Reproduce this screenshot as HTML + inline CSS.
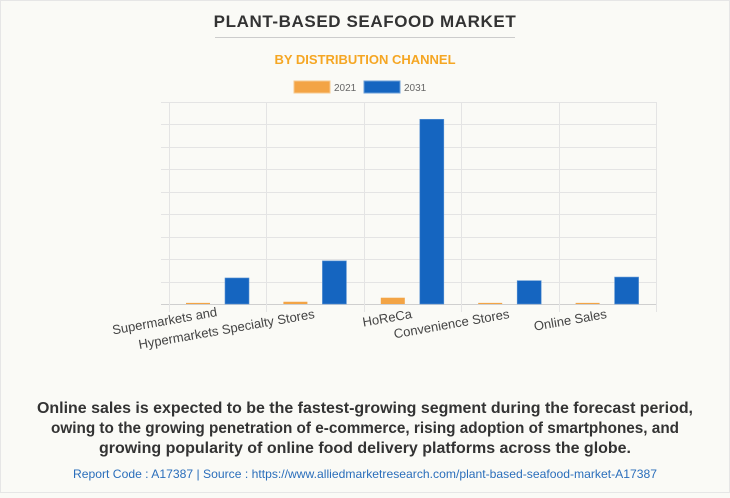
<!DOCTYPE html>
<html><head><meta charset="utf-8">
<style>
html,body{margin:0;padding:0;background:#fafaf6;}
body{width:730px;height:493px;overflow:hidden;font-family:"Liberation Sans",Arial,sans-serif;}
</style></head>
<body>
<svg width="730" height="493" viewBox="0 0 730 493" xmlns="http://www.w3.org/2000/svg">
<rect x="0" y="0" width="730" height="493" fill="#fafaf6"/>
<rect x="0.5" y="0.5" width="729" height="492" fill="none" stroke="#e6e6e6"/>
<text x="365" y="27" text-anchor="middle" font-size="17" font-weight="bold" fill="#333" letter-spacing="0.6">PLANT-BASED SEAFOOD MARKET</text>
<line x1="215" y1="37.5" x2="515" y2="37.5" stroke="#cccccc"/>
<text x="365" y="64" text-anchor="middle" font-size="13" font-weight="bold" fill="#f5a623">BY DISTRIBUTION CHANNEL</text>
<g>
<g><rect x="294" y="81" width="36" height="12" fill="#f3a445" stroke="#f7c98f"/><text x="334" y="91" font-size="10" fill="#666">2021</text></g>
<g><rect x="364" y="81" width="36" height="12" fill="#1565c0" stroke="#6a9ed8"/><text x="404" y="91" font-size="10" fill="#666">2031</text></g>
</g>
<g id="grid"></g>
<g id="bars"></g>
<g id="labels"></g>
<g>
<text x="365" y="413" text-anchor="middle" font-size="16" font-weight="bold" fill="#333" textLength="656" lengthAdjust="spacingAndGlyphs">Online sales is expected to be the fastest-growing segment during the forecast period,</text>
<text x="365" y="433" text-anchor="middle" font-size="16" font-weight="bold" fill="#333" textLength="628" lengthAdjust="spacingAndGlyphs">owing to the growing penetration of e-commerce, rising adoption of smartphones, and</text>
<text x="365" y="453" text-anchor="middle" font-size="16" font-weight="bold" fill="#333" textLength="532" lengthAdjust="spacingAndGlyphs">growing popularity of online food delivery platforms across the globe.</text>
</g>
<text x="365" y="478" text-anchor="middle" font-size="12" fill="#2a6ebb" textLength="584" lengthAdjust="spacingAndGlyphs">Report Code : A17387  |  Source : https://www.alliedmarketresearch.com/plant-based-seafood-market-A17387</text>
</svg>
<script>
const categories = ["Supermarkets and Hypermarkets", "Specialty Stores", "HoReCa", "Convenience Stores", "Online Sales"];
const labelLines = [["Supermarkets and"], ["Hypermarkets Specialty Stores"], ["HoReCa"], ["Convenience Stores"], ["Online Sales"]];
const values2021 = [0.05, 0.1, 0.28, 0.05, 0.05];
const values2031 = [1.16, 1.92, 8.23, 1.04, 1.2];
const yTicks = [0, 1, 2, 3, 4, 5, 6, 7, 8, 9];

const NS = "http://www.w3.org/2000/svg";
const plotL = 169, plotR = 656, plotT = 102, plotB = 304, yMax = 9;
const bandW = (plotR - plotL) / categories.length;
function xBand(i){ return plotL + i * bandW; }
function yScale(v){ return plotB - (v / yMax) * (plotB - plotT); }
function mk(tag, attrs){ const e = document.createElementNS(NS, tag); for (const k in attrs) e.setAttribute(k, attrs[k]); return e; }

const grid = document.getElementById('grid');
yTicks.forEach(t => {
  const y = Math.round(yScale(t)) + 0.5;
  const l = mk('line', {x1: 161, x2: plotR, y1: y, y2: y, stroke: t === 0 ? '#cfcfcf' : '#e4e4e4'});
  
  
  grid.appendChild(l);
});
for (let i = 0; i <= categories.length; i++) {
  const x = Math.round(xBand(i)) + 0.5;
  const l = mk('line', {x1: x, x2: x, y1: plotT, y2: plotB + 8, stroke: '#e4e4e4'});
  
  
  grid.appendChild(l);
}

const bars = document.getElementById('bars');
categories.forEach((c, i) => {
  const x0 = xBand(i);
  const y1 = yScale(values2021[i]);
  const b1 = mk('rect', {x: x0 + 17, y: y1, width: 24, height: plotB - y1, fill: '#f3a445'});
  
  
  bars.appendChild(b1);
  const y2 = yScale(values2031[i]);
  const b2 = mk('rect', {x: x0 + 56, y: y2, width: 24, height: plotB - y2, fill: '#1565c0', stroke: '#5b93d3', 'stroke-width': 0.6});
  
  
  bars.appendChild(b2);
});

const labels = document.getElementById('labels');
labelLines.forEach((lines, i) => {
  const cx = xBand(i) + bandW / 2;
  const y = i === 0 ? 316 : 318;
  const t = mk('text', {x: cx, y: y, 'text-anchor': 'end', 'font-size': 13, fill: '#444', transform: `rotate(-10 ${cx} ${y})`});
  t.textContent = lines[0];
  
  
  labels.appendChild(t);
});
</script>
</body></html>
